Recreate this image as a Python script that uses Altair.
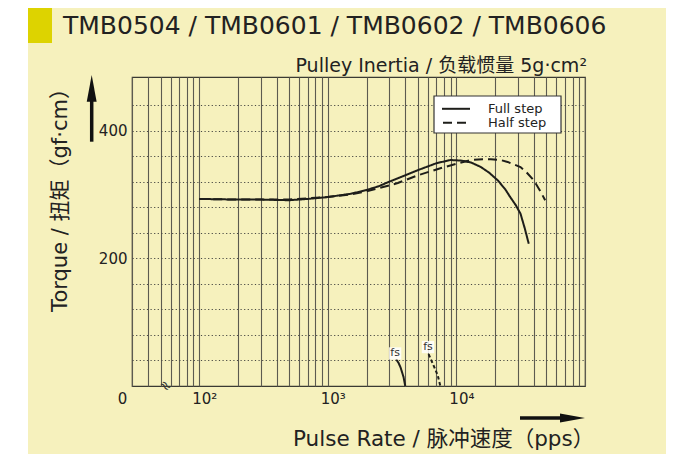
import altair as alt
import pandas as pd

# ---------------- data ----------------
full_freq = [100, 200, 300, 500, 700, 1000, 1500, 2000, 2500, 3000, 4000, 5000,
             7000, 9000, 11000, 13000, 15500, 18000, 21000, 24000, 26000, 29000,
             31500, 34000, 36500]
full_torque = [293, 292, 292, 291, 293, 296, 301, 307, 313, 320, 330, 338,
               349, 354, 353, 350, 343, 334, 322, 308, 297, 283,
               270, 247, 223]

half_freq = [100, 200, 300, 500, 700, 1000, 1500, 2000, 2500, 3000, 3500, 5000,
             7500, 10000, 13000, 16000, 18500, 22000, 25000, 28000, 31500, 35000,
             40000, 45000, 49000]
half_torque = [293, 292, 292, 292, 294, 296, 300, 305, 310, 314, 318, 330,
               341, 348, 354, 355, 355, 354, 351, 347, 343, 335,
               322, 305, 291]

fs_full_freq = [3400, 3550, 3680, 3880, 4000]
fs_full_torque = [42, 36, 29, 14, 0]
fs_half_freq = [6080, 6650, 7150, 7500]
fs_half_torque = [50, 32, 17, 0]

fs_label_freq = [3340, 6010]
fs_label_torque = [51, 61]
fs_label_text = ["fs", "fs"]

break_freq = [54.5]
break_torque = [0]

x_grid = [30, 40, 50, 60, 70, 80, 90,
          100, 200, 300, 400, 500, 600, 700, 800, 900,
          1000, 2000, 3000, 4000, 5000, 6000, 7000, 8000, 9000,
          10000, 20000, 30000, 40000, 50000, 60000, 70000, 80000, 90000, 100000]
x_label_values = [30, 100, 1000, 10000]
x_label_text = ["0", "10²", "10³", "10⁴"]
y_grid = [40, 80, 120, 160, 200, 240, 280, 320, 360, 400, 440]
y_label_values = [200, 400]

series_names = ["Full step", "Half step", "Full fs", "Half fs"]

title_text = "TMB0504 / TMB0601 / TMB0602 / TMB0606"
inertia_text = "Pulley Inertia / 负载惯量 5g·cm²"
y_title = "Torque / 扭矩（gf·cm）"
x_title = "Pulse Rate / 脉冲速度（pps）"

# ---------------- tables ----------------
rows = []
for f, t in zip(full_freq, full_torque):
    rows.append({"freq": f, "torque": t, "series": "Full step"})
for f, t in zip(half_freq, half_torque):
    rows.append({"freq": f, "torque": t, "series": "Half step"})
for f, t in zip(fs_full_freq, fs_full_torque):
    rows.append({"freq": f, "torque": t, "series": "Full fs"})
for f, t in zip(fs_half_freq, fs_half_torque):
    rows.append({"freq": f, "torque": t, "series": "Half fs"})
curves = pd.DataFrame(rows)

labels_df = pd.DataFrame({"freq": fs_label_freq, "torque": fs_label_torque,
                          "txt": fs_label_text})
break_df = pd.DataFrame({"freq": break_freq, "torque": break_torque})
one = pd.DataFrame({"a": [0]})

FONT = "DejaVu Sans, Noto Sans CJK SC"
INK = "#1e1e1a"

xl_expr = " : ".join(
    f"datum.value == {v} ? '{t}'" for v, t in zip(x_label_values, x_label_text)
) + " : ''"
yl_expr = " || ".join(f"datum.value == {v}" for v in y_label_values) + " ? datum.label : ''"

x_enc = alt.X(
    "freq:Q",
    scale=alt.Scale(type="log", domain=[30, 100000], nice=False),
    axis=alt.Axis(
        values=x_grid, grid=True, gridColor="#5c5b50", gridWidth=1.1,
        ticks=False, domain=False, labelExpr=xl_expr, labelFont=FONT,
        labelFontSize=15, labelColor="#222", labelPadding=5,
        labelOverlap=False, labelFlush=False, labelBound=False,
        labelOffset={"condition": {"test": "datum.value <= 30", "value": -10}, "value": 5},
        title=None,
    ),
)
y_enc = alt.Y(
    "torque:Q",
    scale=alt.Scale(domain=[0, 484], nice=False, zero=True),
    axis=alt.Axis(
        values=y_grid, grid=True, gridColor="#4a4a44", gridDash=[1.2, 2.4],
        gridWidth=1, ticks=False, domain=False, labelExpr=yl_expr,
        labelFont=FONT, labelFontSize=15, labelColor="#222", labelPadding=5,
        title=None,
    ),
)

lines = alt.Chart(curves).mark_line(strokeWidth=2, color=INK).encode(
    x=x_enc, y=y_enc,
    strokeDash=alt.StrokeDash(
        "series:N",
        scale=alt.Scale(domain=series_names,
                        range=[[1, 0], [9, 5], [1, 0], [3.5, 2.5]]),
        legend=None,
    ),
    detail="series:N",
)

fs_bg = alt.Chart(labels_df).mark_point(
    shape="square", filled=True, color="#ffffff", opacity=0.85, size=150
).encode(x=x_enc, y=y_enc)
fs_txt = alt.Chart(labels_df).mark_text(
    font=FONT, fontSize=11, color="#333"
).encode(x=x_enc, y=y_enc, text="txt:N")

brk = alt.Chart(break_df).mark_text(
    text="≈", font=FONT, fontSize=14, angle=45, color="#333"
).encode(x=x_enc, y=y_enc)

# ---------------- decorations (page furniture) ----------------
white_strip = alt.Chart(one).mark_rect(color="#ffffff").encode(
    x=alt.value(-124), x2=alt.value(-104), y=alt.value(-69), y2=alt.value(377))
block = alt.Chart(one).mark_rect(color="#ddd300").encode(
    x=alt.value(-104), x2=alt.value(-80), y=alt.value(-69), y2=alt.value(-34))
title = alt.Chart(one).mark_text(
    text=title_text, font=FONT, fontSize=25, align="left", baseline="alphabetic",
    color="#222").encode(x=alt.value(-69), y=alt.value(-43))
inertia = alt.Chart(one).mark_text(
    text=inertia_text, font=FONT, fontSize=19, align="right", baseline="alphabetic",
    color="#222").encode(x=alt.value(455), y=alt.value(-5))
ytitle = alt.Chart(one).mark_text(
    text=y_title, font=FONT, fontSize=21, angle=270, align="center",
    baseline="alphabetic", color="#222").encode(x=alt.value(-65), y=alt.value(118))
xtitle = alt.Chart(one).mark_text(
    text=x_title, font=FONT, fontSize=21.5, align="left", baseline="alphabetic",
    color="#222").encode(x=alt.value(161), y=alt.value(369))

y_shaft = alt.Chart(one).mark_rule(strokeWidth=3.5, color="#111").encode(
    x=alt.value(-40.3), y=alt.value(64.7), y2=alt.value(20))
y_head = alt.Chart(one).mark_point(
    shape="M0,-1L0.37,1L-0.37,1Z", filled=True, size=713, color="#111", opacity=1
).encode(x=alt.value(-40.3), y=alt.value(11.3))
x_shaft = alt.Chart(one).mark_rule(strokeWidth=3.5, color="#111").encode(
    x=alt.value(388), x2=alt.value(432), y=alt.value(341))
x_head = alt.Chart(one).mark_point(
    shape="M1,0L-1,-0.36L-1,0.36Z", filled=True, size=625, color="#111", opacity=1
).encode(x=alt.value(440.5), y=alt.value(341))

leg_box = alt.Chart(one).mark_rect(
    fill="#ffffff", stroke="#333", strokeWidth=1.2).encode(
    x=alt.value(302), x2=alt.value(429), y=alt.value(19), y2=alt.value(56))
leg_full = alt.Chart(one).mark_rule(strokeWidth=2, color=INK).encode(
    x=alt.value(310), x2=alt.value(338), y=alt.value(31.8))
leg_half = alt.Chart(one).mark_rule(strokeWidth=2, color=INK, strokeDash=[9, 5]).encode(
    x=alt.value(311), x2=alt.value(337), y=alt.value(45.8))
leg_t1 = alt.Chart(one).mark_text(
    text="Full step", font=FONT, fontSize=13, align="left", baseline="middle",
    color="#222").encode(x=alt.value(356), y=alt.value(31.8))
leg_t2 = alt.Chart(one).mark_text(
    text="Half step", font=FONT, fontSize=13, align="left", baseline="middle",
    color="#222").encode(x=alt.value(356), y=alt.value(45.8))

chart = alt.layer(
    white_strip, block, title, inertia, ytitle, xtitle,
    y_shaft, y_head, x_shaft, x_head,
    lines, fs_bg, fs_txt, brk,
    leg_box, leg_full, leg_half, leg_t1, leg_t2,
).properties(
    width=453, height=309,
    autosize=alt.AutoSizeParams(type="none"),
    padding={"left": 124, "top": 69, "right": 81, "bottom": 68},
    background="#f6f1bd",
).configure_view(stroke="#3a3a33", strokeWidth=1.2)

chart.save("out.html", embed_options={"renderer": "svg", "actions": False})
